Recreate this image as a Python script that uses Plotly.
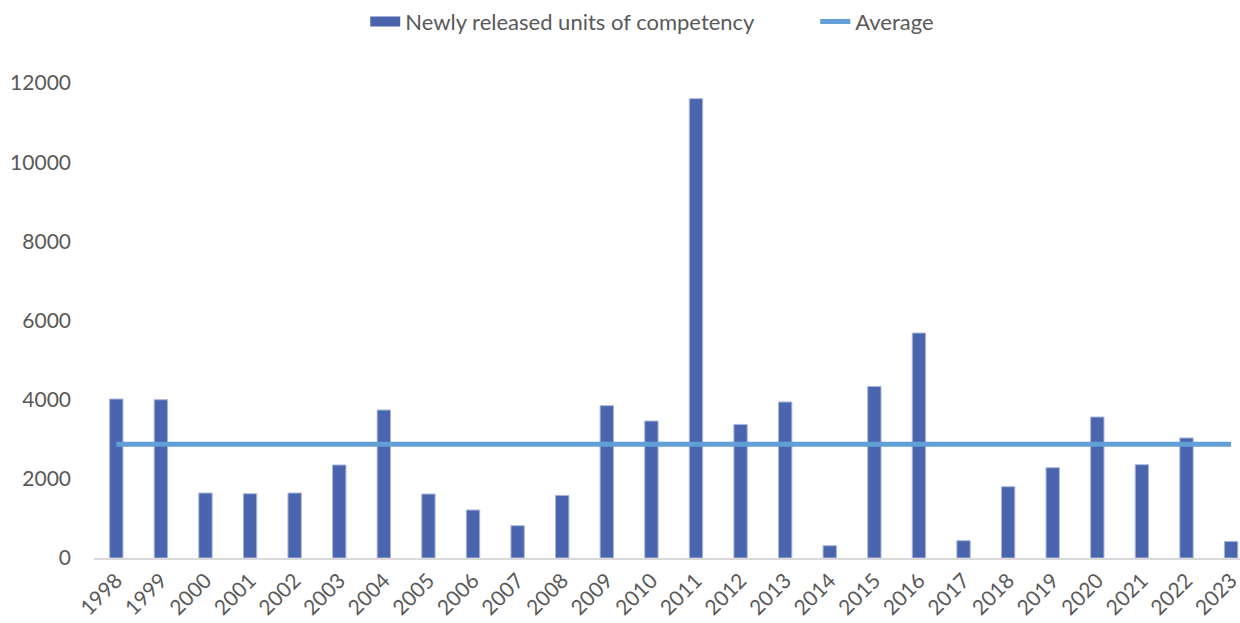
import plotly.graph_objects as go

years = [str(y) for y in range(1998, 2024)]
units = [4017, 3999, 1642, 1624, 1642, 2350, 3739, 1617, 1213, 816, 1582, 3848, 3461,
         11604, 3375, 3941, 311, 4335, 5684, 437, 1801, 2281, 3562, 2357, 3032, 419]
average_value = 2875
average = [average_value] * len(years)
y_ticks = [0, 2000, 4000, 6000, 8000, 10000, 12000]

FONT = "Lato, Carlito, Calibri, sans-serif"
GREY = "#595959"
BAR = "#4A65AD"
NBSP = "\u00a0"

fig = go.Figure()
fig.add_trace(go.Bar(
    x=years, y=units, name="Newly released units of competency",
    marker=dict(color=BAR, line=dict(color="#A9B8DD", width=1)),
    width=0.3, showlegend=False,
))
# legend entry for the bars drawn as a thick swatch
fig.add_trace(go.Scatter(
    x=[None], y=[None], name="Newly released units of competency" + NBSP * 10,
    mode="lines", line=dict(color=BAR, width=13),
))
fig.add_trace(go.Scatter(
    x=years, y=average, name="Average", mode="lines",
    line=dict(color="#619FD6", width=5),
))

fig.update_layout(
    width=1240, height=623,
    margin=dict(l=94, r=0, t=83, b=65),
    paper_bgcolor="white", plot_bgcolor="white",
    font=dict(family=FONT, size=21, color=GREY),
    showlegend=True,
    legend=dict(orientation="h", x=0.526, xanchor="center", xref="container",
                y=0.999, yanchor="top", yref="container",
                font=dict(size=22, color=GREY), tracegroupgap=0),
    bargap=0.7,
)
fig.update_xaxes(
    type="category", range=[-0.5, 25.2], automargin=False,
    showline=True, linecolor="#D9D9D9", linewidth=2,
    ticks="", tickangle=-45, tickfont=dict(size=21, color=GREY),
    showgrid=False, zeroline=False,
)
fig.update_yaxes(
    range=[0, 12000], tickvals=y_ticks, ticktext=[str(v) for v in y_ticks],
    automargin=False,
    showgrid=False, zeroline=False, showline=False, ticks="",
    tickfont=dict(size=21, color=GREY), ticklabelstandoff=22,
)

fig.write_html("out.html", config={"displayModeBar": False},
               post_script="document.body.style.margin='0';")
